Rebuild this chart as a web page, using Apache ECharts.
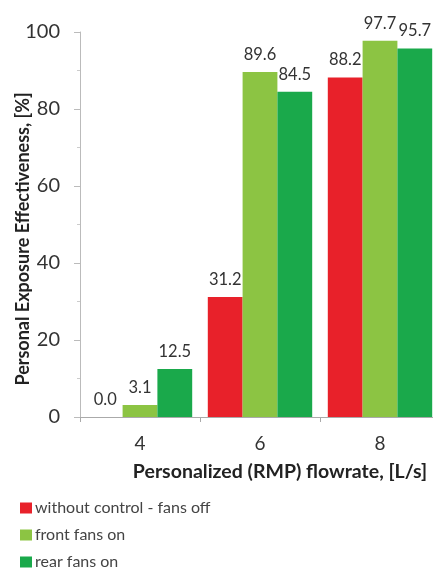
<!DOCTYPE html>
<html><head><meta charset="utf-8">
<script src="https://cdn.jsdelivr.net/npm/echarts@6/dist/echarts.min.js"></script>
<style>html,body{margin:0;padding:0;background:#fff}#c{width:433px;height:572px}</style>
</head><body><div id="c"></div>
<script>
const categories = ['4', '6', '8'];
const seriesNames = ['without control - fans off', 'front fans on', 'rear fans on'];
const withoutControl = [0.0, 31.2, 88.2];
const frontFans = [3.1, 89.6, 97.7];
const rearFans = [12.5, 84.5, 95.7];
const yTicks = [0, 20, 40, 60, 80, 100];
const xTitle = 'Personalized (RMP) flowrate, [L/s]';
const yTitle = 'Personal Exposure Effectiveness, [%]';
const colors = ['#e8212a', '#8cc443', '#1aa94b'];

const chart = echarts.init(document.getElementById('c'), null, {renderer: 'canvas'});
const font = 'Lato, "Open Sans", sans-serif';
const values = [withoutControl, frontFans, rearFans];
chart.setOption({
  animation: false,
  textStyle: {fontFamily: font},
  grid: {left: 80, top: 32, width: 360, height: 385, containLabel: false, outerBoundsMode: 'none'},
  graphic: [{
    type: 'text', x: 23, y: 239, rotation: Math.PI / 2,
    style: {text: yTitle, fill: '#222', font: 'bold 18px ' + font,
      textAlign: 'center', textVerticalAlign: 'middle'}
  }],
  legend: {
    orient: 'vertical', left: 20, top: 500, itemGap: 11, padding: 0,
    itemWidth: 12, itemHeight: 11, icon: 'rect',
    data: seriesNames,
    textStyle: {fontFamily: font, fontSize: 16, lineHeight: 16, color: '#444', padding: [0,0,0,-2]}
  },
  xAxis: {
    type: 'category', data: categories,
    name: xTitle, nameLocation: 'middle', nameGap: 45,
    nameTextStyle: {fontFamily: font, fontWeight: 'bold', fontSize: 19.5, color: '#222', padding: [0, 0, 0, 40]},
    axisLine: {lineStyle: {color: '#aaa', width: 1}},
    axisTick: {show: true, alignWithLabel: false, length: 5, lineStyle: {color: '#aaa'}},
    axisLabel: {fontSize: 19, color: '#333', margin: 17}
  },
  yAxis: {
    type: 'value', min: 0, max: 100, interval: 20,
    axisLine: {show: true, lineStyle: {color: '#bbb'}},
    axisTick: {show: true, length: 6, lineStyle: {color: '#bbb'}},
    minorTick: {show: true, splitNumber: 2, length: 3, lineStyle: {color: '#ccc'}},
    splitLine: {show: false},
    axisLabel: {fontSize: 20, color: '#333', margin: 20,
      formatter: v => yTicks.includes(v) ? String(v) : ''}
  },
  series: seriesNames.map((n, i) => ({
    name: n, type: 'bar', data: values[i],
    barGap: '0%', barCategoryGap: '13%',
    itemStyle: {color: colors[i]},
    label: {show: true, position: 'top', distance: 9, fontSize: 16.5, color: '#333',
      formatter: p => p.value.toFixed(1)}
  }))
});
</script></body></html>
